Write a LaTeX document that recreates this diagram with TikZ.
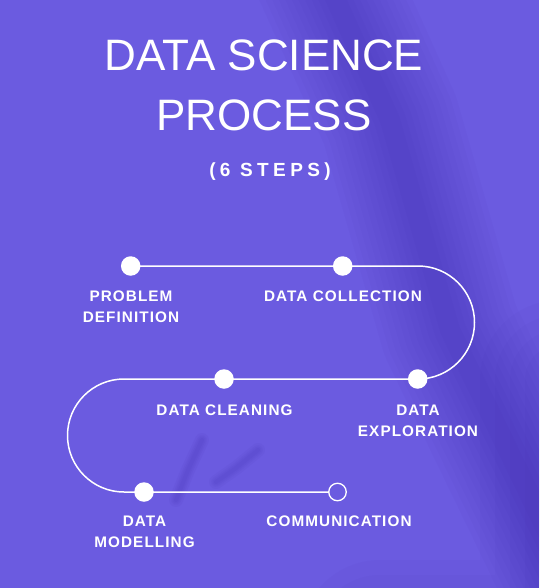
\documentclass[tikz,border=0pt]{standalone}
\usepackage{fontspec}
\setmainfont{Liberation Sans}
\definecolor{bgbase}{HTML}{6B5BE0}
\definecolor{bgshadow}{HTML}{3A25A8}
\pgfdeclarelayer{bg}
\pgfdeclarelayer{lines}
\pgfsetlayers{bg,lines,main}
\tikzset{
  dot/.style={circle, fill=white, inner sep=0pt, minimum size=19.5pt},
  opendot/.style={circle, draw=white, line width=1.3pt, inner sep=0pt, minimum size=17.5pt},
  lbl/.style={text=white, align=center, anchor=north, inner sep=0pt,
    font=\bfseries\fontsize{15.3}{20.7}\selectfont\addfontfeature{LetterSpace=7}},
  pathline/.style={draw=white, line width=1.5pt},
  soft/.style={draw=bgshadow, line join=round, line cap=round, opacity=#1},
}
\begin{document}
\begin{tikzpicture}[x=1pt,y=-1pt]
\begin{pgfonlayer}{bg}
  \path[use as bounding box] (0,0) rectangle (539,588);
  \clip (0,0) rectangle (539,588);
  \fill[bgbase] (0,0) rectangle (539,588);
  % soft diagonal shadow band
  \foreach \w in {140,128,116,104,92,80,68,56,44,32,20} {
    \draw[soft=0.038, line width=\w pt] (318,-40) -- (390,120) -- (450,330) -- (600,640);
  }
  % darker lower right
  \foreach \w in {160,130,100,70,40} {
    \draw[soft=0.04, line width=\w pt] (560,380) -- (560,640) -- (380,640);
  }
  % faint streaks
  \foreach \w in {14,10,7,4} {
    \draw[soft=0.06, line width=\w pt] (202,440) -- (188,470) -- (176,500);
    \draw[soft=0.055, line width=\w pt] (258,450) -- (236,468) -- (216,482);
  }
\end{pgfonlayer}

% title
\node[text=white, align=center, anchor=north, inner sep=0pt,
  font=\fontsize{44}{60}\selectfont] (title) at (264,40) {DATA SCIENCE\\PROCESS};
\node[text=white, anchor=base, inner sep=0pt,
  font=\bfseries\fontsize{19}{22}\selectfont\addfontfeature{LetterSpace=23}] (sub) at (270,176.5) {(6 STEPS)};

% dots
\node[dot] (p1) at (130.7,266) {};
\node[dot] (p2) at (342.7,266) {};
\node[dot] (p3) at (417.7,379) {};
\node[dot] (p4) at (224,379) {};
\node[dot] (p5) at (144,492) {};
\node[opendot] (p6) at (337.5,492) {};
\coordinate (r1) at (418,266);
\coordinate (l1) at (124,379);

\begin{pgfonlayer}{lines}
  \draw[pathline] (p1.center) -- (p2.center) -- (r1) arc[start angle=90, end angle=-90, radius=56.5pt]
     -- (p4.center) -- (l1) arc[start angle=90, end angle=270, radius=56.5pt] -- (p5.center) -- (p6);
\end{pgfonlayer}

% labels
\node[lbl] (t1) at (131,290.6) {PROBLEM\\DEFINITION};
\node[lbl] (t2) at (343,290.6) {DATA COLLECTION};
\node[lbl] (t3) at (224.5,405) {DATA CLEANING};
\node[lbl] (t4) at (418,405) {DATA\\EXPLORATION};
\node[lbl] (t5) at (144.5,516) {DATA\\MODELLING};
\node[lbl] (t6) at (339,516) {COMMUNICATION};
\end{tikzpicture}
\end{document}
